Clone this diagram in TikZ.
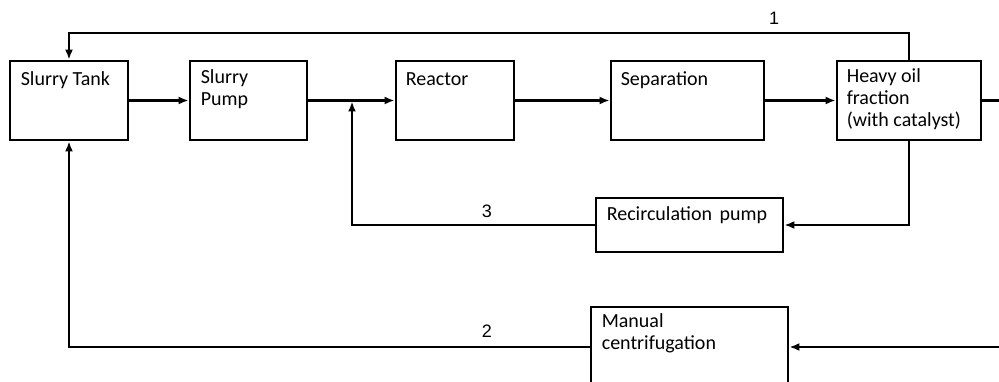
\documentclass[tikz,border=0pt]{standalone}
\usepackage{fontspec}
\setmainfont{Carlito}
\newfontfamily\numfont{Liberation Sans}
\usetikzlibrary{arrows.meta,calc}
\tikzset{
  box/.style={draw, line width=2.8pt, inner sep=0pt, minimum height=79pt},
  txt/.style={anchor=north west, inner sep=0pt, align=left,
    font=\fontsize{20pt}{22pt}\selectfont, execute at begin node=\strut},
  num/.style={inner sep=0pt, font=\numfont\fontsize{18pt}{20pt}\selectfont},
  conn/.style={line width=2.2pt},
  arr/.style={conn, -{Latex[length=10pt,width=8pt]}}
}
\begin{document}
\begin{tikzpicture}[x=1pt,y=-1pt]
\useasboundingbox (0,0) rectangle (999,382);
% boxes
\node[box, minimum width=118pt] (tank) at (69,100.5) {};
\node[box, minimum width=117pt] (pump) at (248.5,100.5) {};
\node[box, minimum width=118pt] (reac) at (455,100.5) {};
\node[box, minimum width=153pt] (sep) at (687.5,100.5) {};
\node[box, minimum width=144pt] (heavy) at (909,100.5) {};
\node[box, minimum width=187pt, minimum height=54pt] (recirc) at (689.5,225) {};
\node[box, minimum width=197pt, minimum height=80pt] (manual) at (689.5,347) {};
% texts
\node[txt] (ttank) at ($(tank.north west)+(12,10)$) {Slurry Tank};
\node[txt] (tpump) at ($(pump.north west)+(12,10)$) {Slurry\\Pump};
\node[txt] (treac) at ($(reac.north west)+(11,10)$) {Reactor};
\node[txt] (tsep) at ($(sep.north west)+(11,10)$) {Separation};
\node[txt] (theavy) at ($(heavy.north west)+(11,9)$) {Heavy oil\\fraction\\(with catalyst)};
\node[txt] (trecirc) at ($(recirc.north west)+(12,8)$) {Recirculation\hspace{0.15em} pump};
\node[txt] (tmanual) at ($(manual.north west)+(12,8)$) {Manual\\centrifugation};
% coordinates
\coordinate (c1a) at (909,33);
\coordinate (c1b) at (69,33);
\coordinate (j) at (352,100.5);
\coordinate (c3) at (909,225);
\coordinate (r1) at (1010,100.5);
\coordinate (r2) at (1010,347);
\coordinate (c2) at (69,347);
% main flow
\draw[arr] (tank.east) -- (pump.west);
\draw[arr] (pump.east) -- (reac.west);
\draw[arr] (reac.east) -- (sep.west);
\draw[arr] (sep.east) -- (heavy.west);
% loop 1
\draw[arr] (heavy.north) -- (c1a) -- (c1b) -- (tank.north);
\node[num] (n1) at (774,18) {1};
% loop 3
\draw[arr] (heavy.south) -- (c3) -- (recirc.east);
\draw[arr, shorten >=1pt] (recirc.west) -| (j);
\node[num] (n3) at (487,211) {3};
% loop 2
\draw[arr] (heavy.east) -- (r1) -- (r2) -- (manual.east);
\draw[arr] (manual.west) -- (c2) -- (tank.south);
\node[num] (n2) at (487,331) {2};
\end{tikzpicture}
\end{document}
